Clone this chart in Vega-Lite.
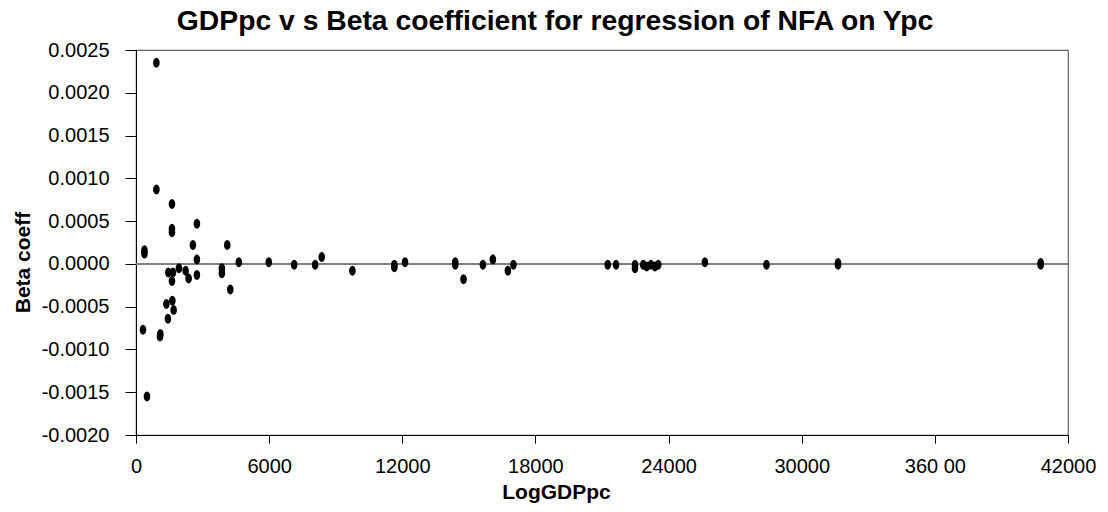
{
  "$schema": "https://vega.github.io/schema/vega-lite/v6.json",
  "autosize": {"type": "none"},
  "padding": {"left": 136, "top": 50, "right": 40, "bottom": 77},
  "width": 932,
  "height": 385,
  "background": "white",
  "config": {
    "font": "Liberation Sans",
    "view": {"stroke": "#666666", "strokeWidth": 1.2},
    "axis": {"grid": false, "domainColor": "#000000", "tickColor": "#000000", "labelColor": "#000000", "titleColor": "#000000", "labelFont": "Liberation Sans", "titleFont": "Liberation Sans"}
  },
  "title": {
    "text": "GDPpc v s Beta coefficient for regression of NFA on Ypc",
    "fontSize": 28.3,
    "fontWeight": "bold",
    "font": "Liberation Sans",
    "color": "#000000",
    "anchor": "middle",
    "frame": "group",
    "baseline": "alphabetic",
    "offset": 17,
    "dx": -47,
    "dy": 35
  },
  "data": {
    "values": [
      {"gdp": 918, "beta": 0.00235},
      {"gdp": 918, "beta": 0.00087},
      {"gdp": 1620, "beta": 0.0007},
      {"gdp": 1620, "beta": 0.00041},
      {"gdp": 1620, "beta": 0.00037},
      {"gdp": 2745, "beta": 0.00047},
      {"gdp": 2565, "beta": 0.00022},
      {"gdp": 4113, "beta": 0.00022},
      {"gdp": 380, "beta": 0.00016},
      {"gdp": 380, "beta": 0.00012},
      {"gdp": 2745, "beta": 0.00005},
      {"gdp": 4635, "beta": 0.00002},
      {"gdp": 1935, "beta": -0.00005},
      {"gdp": 1458, "beta": -0.0001},
      {"gdp": 1665, "beta": -0.0001},
      {"gdp": 1620, "beta": -0.0002},
      {"gdp": 2237, "beta": -0.00008},
      {"gdp": 2372, "beta": -0.00017},
      {"gdp": 2745, "beta": -0.00013},
      {"gdp": 3870, "beta": -0.00005},
      {"gdp": 3870, "beta": -0.00011},
      {"gdp": 4248, "beta": -0.0003},
      {"gdp": 1368, "beta": -0.00047},
      {"gdp": 1638, "beta": -0.00043},
      {"gdp": 1697, "beta": -0.00054},
      {"gdp": 1440, "beta": -0.00064},
      {"gdp": 315, "beta": -0.00077},
      {"gdp": 1080, "beta": -0.00085},
      {"gdp": 1098, "beta": -0.00082},
      {"gdp": 495, "beta": -0.00155},
      {"gdp": 5985, "beta": 0.00002},
      {"gdp": 7128, "beta": -0.00001},
      {"gdp": 8073, "beta": -0.00001},
      {"gdp": 8370, "beta": 0.00008},
      {"gdp": 9752, "beta": -0.00008},
      {"gdp": 11642, "beta": -0.00001},
      {"gdp": 11642, "beta": -0.00004},
      {"gdp": 12123, "beta": 0.00002},
      {"gdp": 14387, "beta": 0.00002},
      {"gdp": 14387, "beta": -0.00001},
      {"gdp": 14760, "beta": -0.00018},
      {"gdp": 15633, "beta": -0.00001},
      {"gdp": 16083, "beta": 0.00005},
      {"gdp": 16758, "beta": -0.00008},
      {"gdp": 17010, "beta": -0.00001},
      {"gdp": 21258, "beta": -0.00001},
      {"gdp": 21632, "beta": -0.00001},
      {"gdp": 22487, "beta": -0.00001},
      {"gdp": 22487, "beta": -0.00005},
      {"gdp": 22860, "beta": -0.00001},
      {"gdp": 23013, "beta": -0.00003},
      {"gdp": 23206, "beta": -0.00001},
      {"gdp": 23387, "beta": -0.00003},
      {"gdp": 23535, "beta": -0.00001},
      {"gdp": 25637, "beta": 0.00002},
      {"gdp": 28413, "beta": -0.00001},
      {"gdp": 31636, "beta": 0.00001},
      {"gdp": 31636, "beta": -0.00001},
      {"gdp": 40770, "beta": 0.00001},
      {"gdp": 40770, "beta": -0.00001}
    ]
  },
  "layer": [
    {
      "mark": {"type": "rule", "color": "#808080", "strokeWidth": 1.5},
      "encoding": {"y": {"datum": 0, "type": "quantitative"}}
    },
    {
      "mark": {"type": "point", "filled": true, "color": "#000000", "opacity": 1, "size": 100, "shape": "M 0 -1 A 0.66 1 0 1 1 0 1 A 0.66 1 0 1 1 0 -1 Z"},
      "encoding": {
        "x": {
          "field": "gdp", "type": "quantitative",
          "scale": {"domain": [0, 42000], "nice": false, "zero": false},
          "axis": {
            "title": "LogGDPpc",
            "values": [0, 6000, 12000, 18000, 24000, 30000, 36000, 42000],
            "format": "d",
            "labelExpr": "datum.value == 36000 ? '360 00' : datum.label",
            "labelFontSize": 20,
            "labelPadding": 13,
            "tickSize": 8,
            "titleFontSize": 21,
            "titleFontWeight": "bold",
            "titleX": 420,
            "titleY": 63,
            "titleBaseline": "alphabetic",
            "titleAnchor": "middle",
            "labelFlush": false
          }
        },
        "y": {
          "field": "beta", "type": "quantitative",
          "scale": {"domain": [-0.002, 0.0025], "nice": false, "zero": false},
          "axis": {
            "title": "Beta coeff",
            "values": [-0.002, -0.0015, -0.001, -0.0005, 0, 0.0005, 0.001, 0.0015, 0.002, 0.0025],
            "format": ".4f",
            "labelExpr": "replace(datum.label, '\u2212', '-')",
            "labelFontSize": 20,
            "labelPadding": 16,
            "tickSize": 11,
            "titleFontSize": 21,
            "titleFontWeight": "bold",
            "titleAngle": -90,
            "titleX": -113,
            "titleY": 212,
            "titleBaseline": "middle",
            "titleAlign": "center",
            "labelFlush": false
          }
        }
      }
    }
  ]
}
